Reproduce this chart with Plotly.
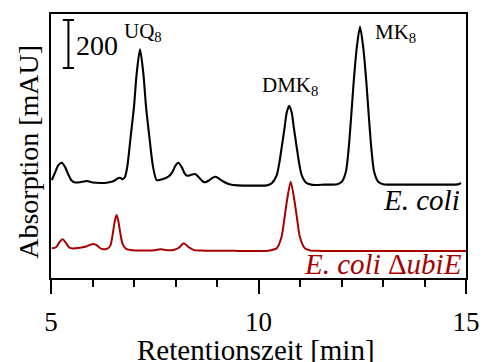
import plotly.graph_objects as go

# ---- data ----
TIME_ECOLI = [5.02, 5.1, 5.17, 5.26, 5.34, 5.42, 5.5, 5.58, 5.7, 5.86, 6.0, 6.2, 6.34, 6.5, 6.6, 6.66,
              6.72, 6.78, 6.84, 6.911, 7.0, 7.065, 7.145, 7.225, 7.29, 7.379, 7.458, 7.545, 7.65, 7.75,
              7.83, 7.92, 8.0, 8.07, 8.15, 8.22, 8.28, 8.38, 8.47, 8.56, 8.66, 8.72, 8.8, 8.9, 8.97,
              9.05, 9.15, 9.3, 9.5, 10.0, 10.2, 10.32, 10.44, 10.507, 10.567, 10.627, 10.68, 10.74,
              10.8, 10.853, 10.913, 10.973, 11.04, 11.16, 11.3, 11.6, 11.9, 12.006, 12.106, 12.173,
              12.236, 12.294, 12.366, 12.446, 12.526, 12.598, 12.656, 12.719, 12.786, 12.886, 13.0,
              13.5, 14.0, 14.5, 14.8, 14.88]
ABS_ECOLI = [408, 440, 468, 480, 462, 430, 405, 398, 399, 404, 398, 396, 397, 403, 414, 418,
             412, 420, 466, 575, 714, 853, 953, 853, 714, 575, 464, 408, 410, 416,
             422, 440, 468, 480, 462, 436, 426, 430, 433, 420, 402, 399, 406, 418, 422,
             414, 402, 391, 386, 385, 386, 395, 429, 485, 554, 624, 690, 718,
             690, 624, 554, 485, 429, 395, 388, 389, 391, 401, 443, 540,
             679, 818, 957, 1047, 957, 818, 679, 540, 443, 401, 391,
             389, 389, 389, 390, 396]

TIME_UBIE = [5.02, 5.12, 5.2, 5.28, 5.36, 5.44, 5.52, 5.7, 5.85, 5.95, 6.02, 6.1, 6.18, 6.26, 6.36,
             6.43, 6.49, 6.535, 6.58, 6.625, 6.67, 6.73, 6.82, 6.95, 7.2, 7.5, 7.63, 7.75, 7.95,
             8.08, 8.2, 8.32, 8.45, 8.7, 9.5, 10.2, 10.33, 10.44, 10.556, 10.62, 10.676, 10.776,
             10.876, 10.933, 10.996, 11.116, 11.25, 11.5, 13.0, 15.0]
ABS_UBIE = [124, 128, 148, 161, 146, 127, 123, 126, 131, 139, 142, 137, 125, 120, 122,
            135, 186, 235, 262, 235, 186, 140, 120, 116, 115, 116, 120, 117, 117,
            126, 145, 128, 116, 114, 113, 113, 117, 124, 172, 242, 311, 401,
            311, 242, 172, 124, 115, 113, 112, 112]

X_TICKS = [5, 10, 15]
SCALE_BAR_MAU = 200
SCALE_BAR_TOP = 1075
PEAK_LABELS = ["UQ<sub>8</sub>", "DMK<sub>8</sub>", "MK<sub>8</sub>"]
PEAK_LABEL_POS = [(6.72, 1025), (10.03, 800), (12.76, 1020)]

BLACK = "#000000"
RED = "#a80000"
FONT = "Liberation Serif"

fig = go.Figure()
fig.add_trace(go.Scatter(x=TIME_ECOLI, y=ABS_ECOLI, mode="lines",
                         line=dict(color=BLACK, width=2.1, shape="spline", smoothing=0.7),
                         hoverinfo="skip", showlegend=False))
fig.add_trace(go.Scatter(x=TIME_UBIE, y=ABS_UBIE, mode="lines",
                         line=dict(color=RED, width=2, shape="spline", smoothing=0.7),
                         hoverinfo="skip", showlegend=False))

# scale bar
bx = 5.42
bot = SCALE_BAR_TOP - SCALE_BAR_MAU
for shp in [dict(x0=bx, x1=bx, y0=bot, y1=SCALE_BAR_TOP),
            dict(x0=bx - 0.135, x1=bx + 0.135, y0=SCALE_BAR_TOP, y1=SCALE_BAR_TOP),
            dict(x0=bx - 0.135, x1=bx + 0.135, y0=bot, y1=bot)]:
    fig.add_shape(type="line", xref="x", yref="y", line=dict(color=BLACK, width=2), **shp)

annots = []
annots.append(dict(x=5.55, y=(SCALE_BAR_TOP + bot) / 2 - 8, text=str(SCALE_BAR_MAU),
                   xanchor="left", yanchor="middle", showarrow=False,
                   font=dict(size=28, color=BLACK, family=FONT)))
for lab, (lx, ly) in zip(PEAK_LABELS, PEAK_LABEL_POS):
    annots.append(dict(x=lx, y=ly, text=lab, xanchor="left", yanchor="middle", showarrow=False,
                       font=dict(size=21, color=BLACK, family=FONT)))
annots.append(dict(x=14.9, y=325, text="<i>E. coli</i>", xanchor="right", yanchor="middle",
                   showarrow=False, font=dict(size=29, color=BLACK, family=FONT)))
annots.append(dict(x=14.94, y=58, text="<i>E. coli</i> Δ<i>ubiE</i>", xanchor="right", yanchor="middle",
                   showarrow=False, font=dict(size=29, color=RED, family=FONT)))
annots.append(dict(xref="paper", yref="paper", x=-0.053, y=0.478, text="Absorption [mAU]",
                   textangle=-90, xanchor="center", yanchor="middle", showarrow=False,
                   font=dict(size=28, color=BLACK, family=FONT)))
annots.append(dict(xref="paper", yref="paper", x=0.493, y=0, yshift=-72, text="Retentionszeit [min]",
                   xanchor="center", yanchor="middle", showarrow=False,
                   font=dict(size=29, color=BLACK, family=FONT)))

fig.update_layout(
    width=485, height=362,
    margin=dict(l=51, r=19, t=14, b=84),
    paper_bgcolor="white", plot_bgcolor="white",
    annotations=annots,
    xaxis=dict(range=[5, 15], tickvals=X_TICKS, ticktext=[str(v) for v in X_TICKS],
               ticks="outside", ticklen=14, tickwidth=2, tickcolor=BLACK,
               showline=True, linecolor=BLACK, linewidth=2, mirror=True,
               showgrid=False, zeroline=False, ticklabelstandoff=5, automargin=False,
               tickfont=dict(size=27, color=BLACK, family=FONT),
               minor=dict(dtick=1, tick0=5, ticks="outside", ticklen=7, tickwidth=2, tickcolor=BLACK,
                          showgrid=False)),
    yaxis=dict(range=[0, 1100], showticklabels=False, ticks="", showline=True, linecolor=BLACK,
               linewidth=2, mirror=True, showgrid=False, zeroline=False, automargin=False),
)

fig.write_html("out.html", config={"displayModeBar": False},
               post_script="document.body.style.margin='0px';document.body.style.overflow='hidden';")
